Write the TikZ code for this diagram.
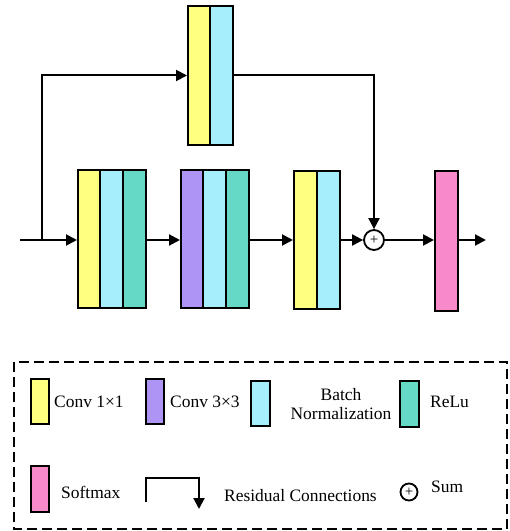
\documentclass[tikz,border=0pt]{standalone}
\usepackage{fontspec}
\setmainfont{Liberation Serif}
\usetikzlibrary{arrows.meta}
\definecolor{cyel}{RGB}{255,255,128}
\definecolor{ccya}{RGB}{166,238,251}
\definecolor{cgrn}{RGB}{102,217,198}
\definecolor{cpur}{RGB}{173,148,245}
\definecolor{cpnk}{RGB}{247,138,200}
\tikzset{
  blk/.style={draw, line width=2bp, inner sep=0pt, minimum width=#1},
  blk/.default=22bp,
  conn/.style={line width=2bp, -{Triangle[length=11bp,width=11bp]}},
  lbl/.style={inner sep=0pt, anchor=west, font=\fontsize{17.5}{19.5}\selectfont},
  sumc/.style={draw, circle, line width=1.8bp, inner sep=0pt, minimum size=#1, font=\fontsize{15}{15}\selectfont},
}
\begin{document}
\begin{tikzpicture}[x=1bp,y=-1bp]
\useasboundingbox (0,0) rectangle (510,531);
% top residual block
\node[blk, fill=cyel, minimum height=139bp] (tA) at (199,75.5) {};
\node[blk, fill=ccya, minimum height=139bp, minimum width=23bp] (tB) at (221.5,75.5) {};
% block 1
\node[blk, fill=cyel, minimum height=138bp] (b1a) at (89,239) {};
\node[blk, fill=ccya, minimum height=138bp, minimum width=23bp] (b1b) at (111.5,239) {};
\node[blk, fill=cgrn, minimum height=138bp, minimum width=23bp] (b1c) at (134.5,239) {};
% block 2
\node[blk, fill=cpur, minimum height=138bp] (b2a) at (192,239) {};
\node[blk, fill=ccya, minimum height=138bp, minimum width=23bp] (b2b) at (214.5,239) {};
\node[blk, fill=cgrn, minimum height=138bp, minimum width=23bp] (b2c) at (237.5,239) {};
% block 3
\node[blk, fill=cyel, minimum height=138bp, minimum width=23bp] (b3a) at (305.5,240) {};
\node[blk, fill=ccya, minimum height=138bp, minimum width=23bp] (b3b) at (328.5,240) {};
% sum
\node[sumc=20bp] (sum) at (374,240) {+};
% softmax
\node[blk, fill=cpnk, minimum height=139bp, minimum width=23bp] (pk) at (446.5,241) {};
\coordinate (in) at (20,240);
\coordinate (sp) at (42,240);
\coordinate (out) at (486,240);
\draw[conn] (in) -- (b1a.west |- in);
\draw[conn] (sp) |- (tA.west);
\draw[conn] (tB.east) -| (sum.north);
\draw[conn] (b1c.east |- in) -- (b2a.west |- in);
\draw[conn] (b2c.east |- in) -- (b3a.west |- in);
\draw[conn] (b3b.east |- in) -- (sum.west);
\draw[conn] (sum.east) -- (pk.west |- in);
\draw[conn] (pk.east |- in) -- (out);
% legend
\draw[line width=2bp, dash pattern=on 10bp off 5bp] (14,362) rectangle (507,529);
\node[blk, fill=cyel, minimum width=18bp, minimum height=45bp] (lY) at (40,401.5) {};
\node[lbl] (tY) at (54,402) {Conv 1×1};
\node[blk, fill=cpur, minimum width=18bp, minimum height=45bp] (lP) at (155,401.5) {};
\node[lbl] (tP) at (170,402) {Conv 3×3};
\node[blk, fill=ccya, minimum width=19bp, minimum height=45bp] (lC) at (260.5,403.5) {};
\node[lbl, anchor=center, align=center] (tC) at (341,404) {Batch\\Normalization};
\node[blk, fill=cgrn, minimum width=19bp, minimum height=46bp] (lG) at (409.5,404) {};
\node[lbl] (tG) at (430,402) {ReLu};
\node[blk, fill=cpnk, minimum width=18bp, minimum height=46bp] (lK) at (40,489) {};
\node[lbl] (tK) at (61,492) {Softmax};
\coordinate (r0) at (146,502);
\coordinate (r1) at (146,478);
\coordinate (r2) at (199,478);
\coordinate (r3) at (199,509);
\draw[conn] (r0) -- (r1) -- (r2) -- (r3);
\node[lbl] (tR) at (224,496) {Residual Connections};
\node[sumc=17bp] (lS) at (409,492) {+};
\node[lbl] (tS) at (431,487) {Sum};
\end{tikzpicture}
\end{document}
